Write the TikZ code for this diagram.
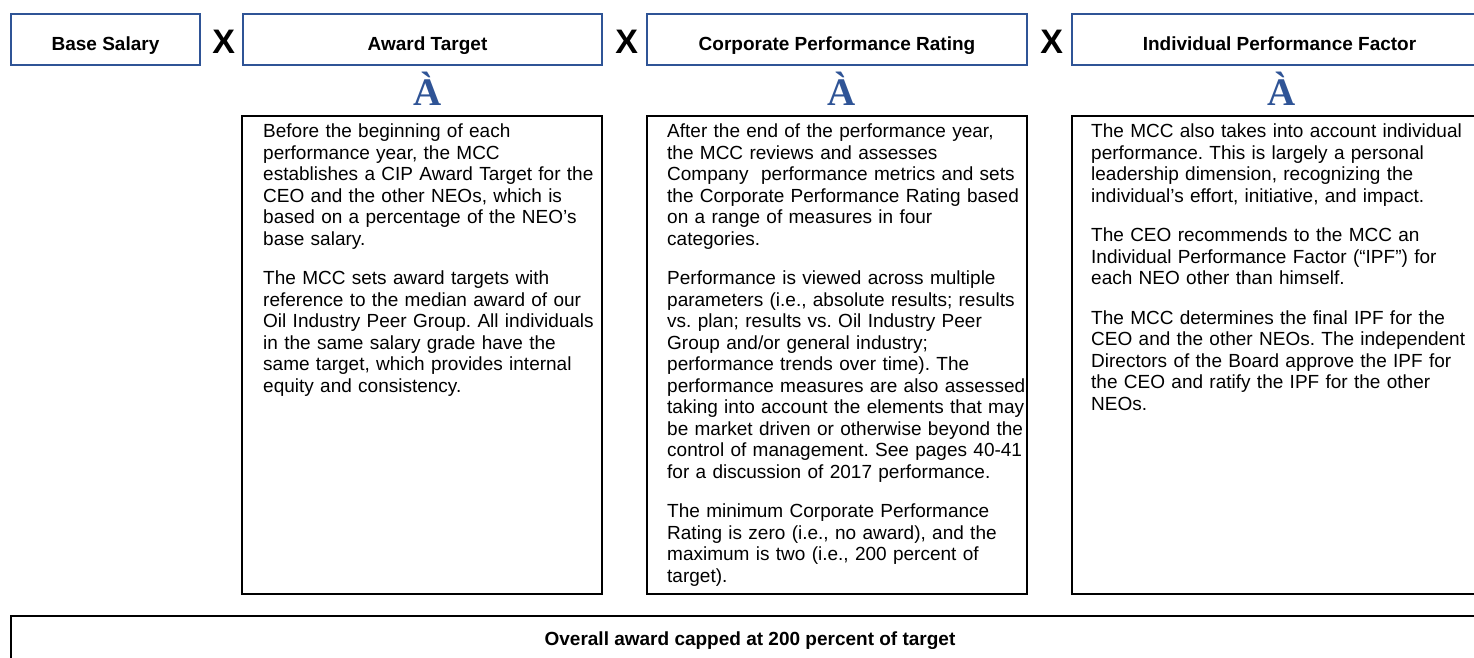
\documentclass[tikz,border=0pt]{standalone}
\usepackage{fontspec}
\setmainfont{Liberation Sans}
\newfontfamily\arrowfont{Liberation Serif}
\usepackage{xcolor}
\usetikzlibrary{calc}
\definecolor{hdrblue}{RGB}{47,84,150}
\frenchspacing

\tikzset{
  hdrbox/.style={draw=hdrblue, line width=1.5pt, minimum height=51pt,
    inner sep=0pt, outer sep=0pt, text height=21pt, text depth=0pt,
    font=\fontsize{19}{22}\selectfont\bfseries},
  txtbox/.style={draw, line width=2pt, minimum height=478pt,
    inner sep=0pt, outer sep=0pt},
  bodytxt/.style={anchor=north west, inner sep=0pt, text width=400pt,
    align=left, font=\fontsize{19}{21.5}\selectfont},
  timesx/.style={inner sep=0pt, text height=24pt, text depth=0pt,
    font=\fontsize{34}{34}\selectfont\bfseries},
  downA/.style={anchor=base, inner sep=0pt, text=hdrblue,
    font=\fontsize{39}{39}\selectfont\arrowfont\bfseries}
}

\begin{document}
\begin{tikzpicture}[x=1pt,y=-1pt]
  \useasboundingbox (0,0) rectangle (1474,657);
  \clip (0,0) rectangle (1474,657);

  % factors
  \node[hdrbox, minimum width=189pt] (hBase)  at (105.5,39.5) {Base Salary};
  \node[hdrbox, minimum width=359pt] (hAward) at (422.5,39.5) {\hspace*{10pt}Award Target};
  \node[hdrbox, minimum width=380pt] (hCorp)  at (837,39.5)   {Corporate Performance Rating};
  \node[hdrbox, minimum width=415pt] (hIndiv) at (1279.5,39.5) {Individual Performance Factor};

  \node[timesx, yshift=-1.5pt] (x1) at ($(hBase.east)!.55!(hAward.west)$) {X};
  \node[timesx, yshift=-1.5pt] (x2) at ($(hAward.east)!.55!(hCorp.west)$) {X};
  \node[timesx, yshift=-1.5pt] (x3) at ($(hCorp.east)!.55!(hIndiv.west)$) {X};

  \node[downA] (a1) at (428,105)  {À};
  \node[downA] (a2) at (842,105)  {À};
  \node[downA] (a3) at (1282,105) {À};

  % explanations
  \node[txtbox, minimum width=360pt] (b1) at (422,355)  {};
  \node[txtbox, minimum width=380pt] (b2) at (837,355)  {};
  \node[txtbox, minimum width=418pt] (b3) at (1281,355) {};

  \node[bodytxt] (t1) at ([xshift=21pt,yshift=-6.7pt]b1.north west) {\strut
    Before the beginning of each\\
    performance year, the MCC\\
    establishes a CIP Award Target for the\\
    CEO and the other NEOs, which is\\
    based on a percentage of the NEO’s\\
    base salary.\\[18pt]
    The MCC sets award targets with\\
    reference to the median award of our\\
    Oil Industry Peer Group. All individuals\\
    in the same salary grade have the\\
    same target, which provides internal\\
    equity and consistency.};

  \node[bodytxt] (t2) at ([xshift=20pt,yshift=-6.7pt]b2.north west) {\strut
    After the end of the performance year,\\
    the MCC reviews and assesses\\
    Company\ \ performance metrics and sets\\
    the Corporate Performance Rating based\\
    on a range of measures in four\\
    categories.\\[18pt]
    Performance is viewed across multiple\\
    parameters (i.e., absolute results; results\\
    vs. plan; results vs. Oil Industry Peer\\
    Group and/or general industry;\\
    performance trends over time). The\\
    performance measures are also assessed\\
    taking into account the elements that may\\
    be market driven or otherwise beyond the\\
    control of management. See pages 40-41\\
    for a discussion of 2017 performance.\\[18pt]
    The minimum Corporate Performance\\
    Rating is zero (i.e., no award), and the\\
    maximum is two (i.e., 200 percent of\\
    target).};

  \node[bodytxt] (t3) at ([xshift=19pt,yshift=-6.7pt]b3.north west) {\strut
    The MCC also takes into account individual\\
    performance. This is largely a personal\\
    leadership dimension, recognizing the\\
    individual’s effort, initiative, and impact.\\[18pt]
    The CEO recommends to the MCC an\\
    Individual Performance Factor (“IPF”) for\\
    each NEO other than himself.\\[18pt]
    The MCC determines the final IPF for the\\
    CEO and the other NEOs. The independent\\
    Directors of the Board approve the IPF for\\
    the CEO and ratify the IPF for the other\\
    NEOs.};

  % cap
  \node[draw, line width=2pt, inner sep=0pt, outer sep=0pt, anchor=north west,
    minimum width=1478pt, minimum height=50pt, text height=8pt, text depth=0pt,
    font=\fontsize{19}{22}\selectfont\bfseries] (cap) at (11,616)
    {Overall award capped at 200 percent of target};
\end{tikzpicture}
\end{document}
